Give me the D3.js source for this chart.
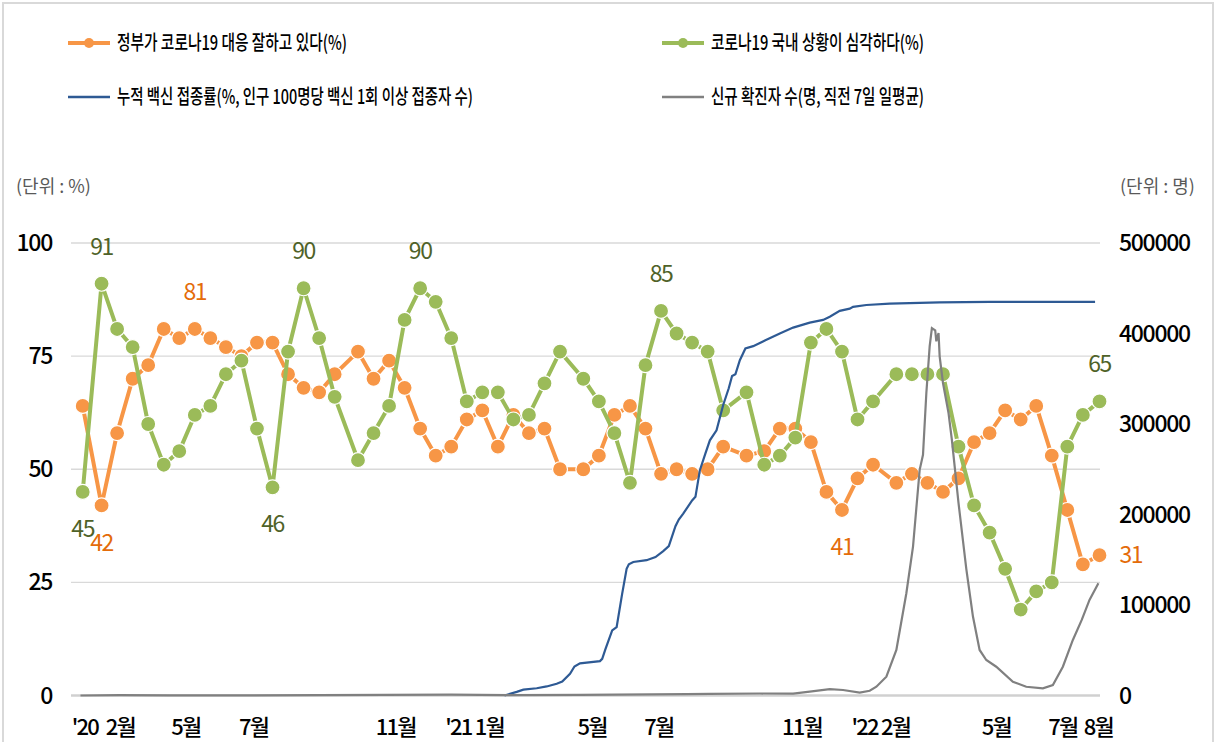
<!DOCTYPE html>
<html>
<head>
<meta charset="utf-8">
<script src="https://cdn.jsdelivr.net/npm/d3@7"></script>
<style>
  body { margin: 0; background: #fff; }
  text { font-family: "Noto Sans CJK KR", "Noto Sans", sans-serif; }
</style>
</head>
<body>
<svg id="svg"></svg>
<script>
// survey dates (biweekly)
const surveyDates = [
  "2020-01-28","2020-02-14","2020-02-28","2020-03-13","2020-03-27","2020-04-10","2020-04-24","2020-05-08",
  "2020-05-22","2020-06-05","2020-06-19","2020-07-03","2020-07-17","2020-07-31","2020-08-14","2020-08-28",
  "2020-09-11","2020-10-02","2020-10-16","2020-10-30","2020-11-13","2020-11-27","2020-12-11","2020-12-25",
  "2021-01-08","2021-01-22","2021-02-05","2021-02-19","2021-03-05","2021-03-19","2021-04-02","2021-04-23",
  "2021-05-07","2021-05-21","2021-06-04","2021-06-18","2021-07-02","2021-07-16","2021-07-30","2021-08-13",
  "2021-08-27","2021-09-17","2021-10-03","2021-10-17","2021-10-31","2021-11-14","2021-11-28","2021-12-12",
  "2021-12-26","2022-01-09","2022-01-30","2022-02-13","2022-02-27","2022-03-13","2022-03-27","2022-04-10",
  "2022-04-24","2022-05-08","2022-05-22","2022-06-05","2022-06-19","2022-07-03","2022-07-17","2022-08-01"
];
// 정부가 코로나19 대응 잘하고 있다(%)
const govGood = [64,42,58,70,73,81,79,81,79,77,75,78,78,71,68,67,71,76,70,74,68,59,53,55,61,63,55,62,58,59,50,50,
  53,62,64,59,49,50,49,50,55,53,54,59,59,56,45,41,48,51,47,49,47,45,48,56,58,63,61,64,53,41,29,31];
// 코로나19 국내 상황이 심각하다(%)
const serious = [45,91,81,77,60,51,54,62,64,71,74,59,46,76,90,79,66,52,58,64,83,90,87,79,65,67,67,61,62,69,76,70,
  65,58,47,73,85,80,78,76,63,67,51,53,57,78,81,76,61,65,71,71,71,71,55,42,36,28,19,23,25,55,62,65];

// 누적 백신 접종률 (%)
const vaxDates = ["2021-02-11","2021-02-22","2021-02-28","2021-03-12","2021-03-21","2021-03-30","2021-04-04","2021-04-11",
  "2021-04-15","2021-04-20","2021-05-08","2021-05-10","2021-05-13","2021-05-19","2021-05-23","2021-05-28","2021-06-01",
  "2021-06-03","2021-06-07","2021-06-19","2021-06-27","2021-07-04","2021-07-09","2021-07-15","2021-07-18","2021-07-22",
  "2021-07-30","2021-08-02","2021-08-06","2021-08-11","2021-08-15","2021-08-21","2021-08-27","2021-09-01","2021-09-04",
  "2021-09-07","2021-09-11","2021-09-16","2021-09-23","2021-10-04","2021-10-17","2021-10-29","2021-11-13","2021-11-25",
  "2021-12-01","2021-12-10","2021-12-19","2021-12-22","2022-01-03","2022-01-24","2022-03-10","2022-04-24","2022-07-28"];
const vaxRate = [0,0.8,1.3,1.6,2.0,2.6,3.1,4.8,6.4,7.1,7.6,8.1,10.3,14.4,15.1,22.5,28.0,29.0,29.5,29.9,30.6,31.9,33.0,
  37.4,38.9,40.2,43.1,43.9,49.8,53.5,56.4,58.6,64.2,67.9,70.6,71.0,74.1,76.7,77.2,78.5,80.0,81.3,82.4,83.0,83.7,85.0,
  85.5,85.9,86.3,86.6,86.9,87.0,87.0];

// 신규 확진자 수 (명, 직전 7일 일평균)
const caseDates = ["2020-01-26","2020-03-01","2020-04-15","2020-08-28","2020-12-25","2021-02-15","2021-04-20","2021-07-25",
  "2021-08-15","2021-09-29","2021-10-29","2021-11-13","2021-12-01","2021-12-13","2021-12-28","2022-01-06","2022-01-12",
  "2022-01-21","2022-01-30","2022-02-08","2022-02-14","2022-02-20","2022-02-23","2022-02-26","2022-03-01","2022-03-03",
  "2022-03-06","2022-03-07","2022-03-09","2022-03-10","2022-03-13","2022-03-18","2022-03-21","2022-03-27","2022-04-03",
  "2022-04-09","2022-04-15","2022-04-21","2022-04-30","2022-05-15","2022-05-27","2022-06-11","2022-06-20","2022-06-29",
  "2022-07-08","2022-07-16","2022-07-23","2022-07-31"];
const caseAvg = [0,500,50,350,1000,400,650,1600,1900,2200,2000,4200,7000,6100,3100,5300,9700,20800,50300,113000,164600,
  249400,266000,334000,385800,406000,403500,391400,400600,374800,345300,312100,282600,212600,140000,87200,50300,39200,
  31800,15200,9700,8000,11600,31800,61400,83500,105600,124100];

const xTickDates = ["2020-01-30","2020-03-02","2020-04-30","2020-06-30","2020-11-05","2021-01-15","2021-05-01",
  "2021-06-30","2021-11-06","2022-01-16","2022-04-30","2022-06-29","2022-07-31"];
const xTickLabels = ["'20","2월","5월","7월","11월","'21 1월","5월","7월","11월","'22 2월","5월","7월","8월"];
const leftTicks = [0, 25, 50, 75, 100];
const rightTicks = [0, 100000, 200000, 300000, 400000, 500000];

const seriesNames = ["정부가 코로나19 대응 잘하고 있다(%)", "코로나19 국내 상황이 심각하다(%)",
  "누적 백신 접종률(%, 인구 100명당 백신 1회 이상 접종자 수)", "신규 확진자 수(명, 직전 7일 일평균)"];
const govLabelIdx = [1, 7, 47, 63];
const seriousLabelIdx = [0, 1, 12, 14, 21, 36, 63];

const width = 1218, height = 742;
const parse = d3.timeParse("%Y-%m-%d");
const ORANGE = "#F79646", GREEN = "#9BBB59", BLUE = "#2E5A94", GRAY = "#808080";

const svg = d3.select("#svg")
  .attr("width", width)
  .attr("height", height)
  .attr("viewBox", [0, 0, width, height]);

svg.append("rect")
  .attr("x", 3).attr("y", 3).attr("width", 1210).attr("height", 760)
  .attr("fill", "#fff").attr("stroke", "#d9d9d9").attr("stroke-width", 2);

const x = d3.scaleTime([parse("2020-01-28"), parse("2022-08-01")], [82.7, 1099.5]);
const y = d3.scaleLinear([0, 100], [695.5, 243]);
const y2 = d3.scaleLinear([0, 500000], [695.5, 243]);
const plotL = 71, plotR = 1100;

// grid
svg.append("g")
  .selectAll("line")
  .data(leftTicks.slice(1))
  .join("line")
  .attr("x1", plotL).attr("x2", plotR)
  .attr("y1", d => y(d)).attr("y2", d => y(d))
  .attr("stroke", "#d9d9d9").attr("stroke-width", 1.3);

svg.append("line")
  .attr("x1", plotL).attr("x2", plotR)
  .attr("y1", y(0)).attr("y2", y(0))
  .attr("stroke", "#d0d0d0").attr("stroke-width", 2.5);

// left axis labels
svg.append("g")
  .selectAll("text")
  .data(leftTicks)
  .join("text")
  .attr("x", 52).attr("y", d => y(d))
  .attr("dy", "0.35em")
  .attr("text-anchor", "end")
  .attr("font-size", 23).attr("font-weight", 500).attr("letter-spacing", -1.3)
  .attr("fill", "#000")
  .text(d => d);

// right axis labels
svg.append("g")
  .selectAll("text")
  .data(rightTicks)
  .join("text")
  .attr("x", 1119).attr("y", d => y2(d))
  .attr("dy", "0.35em")
  .attr("font-size", 23).attr("font-weight", 500).attr("letter-spacing", -1.3)
  .attr("fill", "#000")
  .text(d => d);

// unit labels
svg.append("text").attr("x", 16).attr("y", 187).attr("dy", "0.35em")
  .attr("font-size", 18).attr("fill", "#595959").text("(단위 : %)");
svg.append("text").attr("x", 1120).attr("y", 187).attr("dy", "0.35em")
  .attr("font-size", 18).attr("fill", "#595959").text("(단위 : 명)");

// x labels
svg.append("g")
  .selectAll("text")
  .data(xTickDates)
  .join("text")
  .attr("x", d => x(parse(d))).attr("y", 727)
  .attr("dy", "0.35em")
  .attr("text-anchor", "middle")
  .attr("font-size", 22).attr("font-weight", 500).attr("letter-spacing", -1.8)
  .attr("fill", "#000")
  .text((d, i) => xTickLabels[i]);

// survey series
function drawSurvey(values, color) {
  const pts = values.map((v, i) => ({ date: parse(surveyDates[i]), v }));
  svg.append("path")
    .datum(pts)
    .attr("fill", "none")
    .attr("stroke", color)
    .attr("stroke-width", 4)
    .attr("stroke-linejoin", "round")
    .attr("d", d3.line().x(d => x(d.date)).y(d => y(d.v)));
  svg.append("g")
    .selectAll("circle")
    .data(pts)
    .join("circle")
    .attr("cx", d => x(d.date)).attr("cy", d => y(d.v))
    .attr("r", 7.5)
    .attr("fill", color)
    .attr("stroke", "#fff").attr("stroke-width", 1.2);
}
drawSurvey(govGood, ORANGE);
drawSurvey(serious, GREEN);

// vaccine line
svg.append("path")
  .datum(vaxDates.map((d, i) => ({ date: parse(d), v: vaxRate[i] })))
  .attr("fill", "none").attr("stroke", BLUE).attr("stroke-width", 2.2)
  .attr("d", d3.line().x(d => x(d.date)).y(d => y(d.v)));

// cases line
svg.append("path")
  .datum(caseDates.map((d, i) => ({ date: parse(d), v: caseAvg[i] })))
  .attr("fill", "none").attr("stroke", GRAY).attr("stroke-width", 2.2)
  .attr("d", d3.line().x(d => x(d.date)).y(d => y2(d.v)));

// data labels
function labelAt(values, idx, color) {
  idx.forEach(i => {
    const v = values[i];
    const cx = x(parse(surveyDates[i])), cy = y(v);
    let lx = cx, ly, anchor = "middle";
    if (i === values.length - 1 && values === govGood) { lx = cx + 20; ly = cy; anchor = "start"; }
    else {
      const prev = values[Math.max(0, i - 1)], next = values[Math.min(values.length - 1, i + 1)];
      const isMin = v <= prev && v <= next;
      ly = isMin ? cy + 37 : cy - 37;
    }
    svg.append("text")
      .attr("x", lx).attr("y", ly).attr("dy", "0.35em")
      .attr("text-anchor", anchor)
      .attr("font-size", 23).attr("letter-spacing", -1.4)
      .attr("fill", color)
      .text(v);
  });
}
labelAt(govGood, govLabelIdx, "#E46C0A");
labelAt(serious, seriousLabelIdx, "#4F6228");

// legend
const legendPos = [[68, 43], [662, 43], [68, 97], [662, 97]];
const legendLen = [230, 213, 356, 213];
const legendColor = [ORANGE, GREEN, BLUE, GRAY];
const lg = svg.append("g");
seriesNames.forEach((name, i) => {
  const [lx, ly] = legendPos[i];
  lg.append("line").attr("x1", lx).attr("x2", lx + 42).attr("y1", ly).attr("y2", ly)
    .attr("stroke", legendColor[i]).attr("stroke-width", i < 2 ? 4 : 2.5);
  if (i < 2) lg.append("circle").attr("cx", lx + 21).attr("cy", ly).attr("r", 5).attr("fill", legendColor[i]);
  lg.append("text").attr("x", lx + 49).attr("y", ly).attr("dy", "0.35em")
    .attr("font-size", 20).attr("font-weight", 500).attr("fill", "#000")
    .attr("textLength", legendLen[i]).attr("lengthAdjust", "spacingAndGlyphs")
    .text(name);
});
</script>
</body>
</html>
